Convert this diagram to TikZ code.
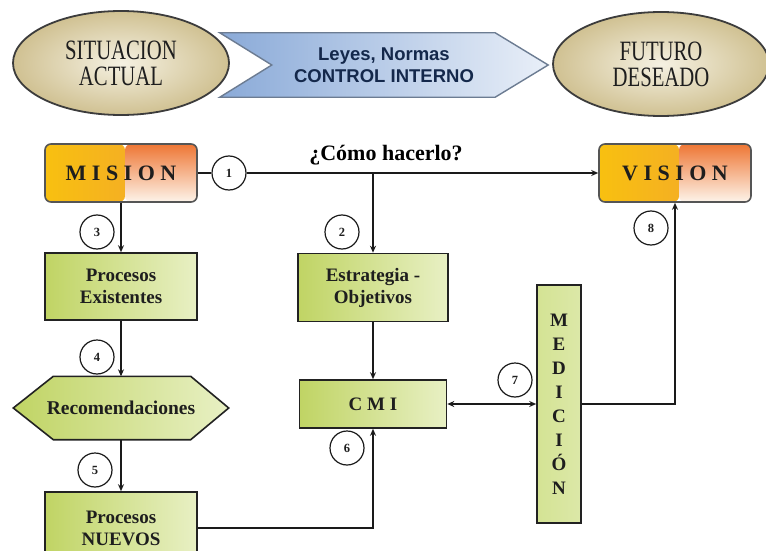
\documentclass[tikz,border=0pt]{standalone}
\usepackage{fontspec}
\setmainfont{Liberation Serif}
\newfontfamily\chevfont{Liberation Sans}
\newfontfamily\condfont[FakeStretch=0.74]{Liberation Serif}
\usetikzlibrary{arrows.meta,calc,shapes.geometric}
\pgfdeclarelayer{background}
\pgfsetlayers{background,main}
\definecolor{linec}{HTML}{1A1A1A}
\definecolor{boxedge}{HTML}{222222}
\definecolor{txtdark}{HTML}{1E1E1E}
\definecolor{ellin}{HTML}{F5F1E2}
\definecolor{ellout}{HTML}{D0C192}
\definecolor{elledge}{HTML}{3C3C3C}
\definecolor{chev1}{HTML}{8AAAD8}
\definecolor{chev2}{HTML}{C3D4EC}
\definecolor{chev3}{HTML}{E9EFF8}
\definecolor{chevedge}{HTML}{6C7C92}
\definecolor{chevtxt}{HTML}{14284B}
\definecolor{or1}{HTML}{F8C010}
\definecolor{or2}{HTML}{F2A232}
\definecolor{or3}{HTML}{EE7634}
\definecolor{or4}{HTML}{FDF4EA}
\definecolor{oredge}{HTML}{555555}
\definecolor{g1}{HTML}{C0D464}
\definecolor{g2}{HTML}{C9DC78}
\definecolor{g3}{HTML}{E8F0C4}
\definecolor{m1}{HTML}{D4E394}
\definecolor{m2}{HTML}{C3D76A}
\definecolor{m3}{HTML}{DCE8A8}
\tikzset{
  conn/.style={draw=linec, line width=1.4pt},
  arr/.style={conn, -{Stealth[length=7pt,width=6pt]}},
  darr/.style={conn, {Stealth[length=7pt,width=6pt]}-{Stealth[length=7pt,width=6pt]}},
  ellnode/.style={ellipse, draw=elledge, line width=1.8pt, inner color=ellin, outer color=ellout,
    minimum width=216pt, minimum height=104pt, inner sep=0pt, align=center,
    font=\condfont\fontsize{28}{26}\selectfont, text=txtdark},
  orangebox/.style={rectangle, rounded corners=6pt, draw=oredge, line width=1.6pt,
    minimum width=152pt, minimum height=58pt, inner sep=0pt,
    font=\fontsize{22}{22}\selectfont\bfseries, text=txtdark,
    path picture={
      \shade[left color=or1, right color=or2] (path picture bounding box.south west) rectangle ($(path picture bounding box.north)+(4,0)$);
      \shade[top color=or3, bottom color=or4] ($(path picture bounding box.north)+(4,0)$) rectangle (path picture bounding box.south east);
    }},
  greenbox/.style={rectangle, draw=boxedge, line width=1.6pt, left color=g1, middle color=g2, right color=g3,
    inner sep=0pt, align=center, font=\fontsize{19}{22}\selectfont\bfseries, text=txtdark},
  numc/.style={circle, draw=linec, line width=1.2pt, fill=white, minimum size=34pt, inner sep=0pt,
    font=\fontsize{12.5}{12.5}\selectfont\bfseries, text=txtdark},
}
\begin{document}
\begin{tikzpicture}[x=1pt,y=-1pt]
\useasboundingbox (0,0) rectangle (766,551);
\clip (0,0) rectangle (766,551);
\begin{pgfonlayer}{background}
\fill[white] (0,0) rectangle (766,551);
\end{pgfonlayer}

% top row
\node[ellnode] (sit) at (121,63) {SITUACION\\ACTUAL};
\node[ellnode] (fut) at (661,64) {FUTURO\\DESEADO};
\node[minimum width=328pt, minimum height=64pt, inner sep=0pt, align=center,
      font=\chevfont\fontsize{18.5}{21.5}\selectfont\bfseries, text=chevtxt] (ley) at (384,65)
      {Leyes, Normas\\CONTROL INTERNO};
\begin{pgfonlayer}{background}
\shadedraw[left color=chev1, middle color=chev2, right color=chev3, draw=chevedge, line width=1.4pt]
  (ley.north west) -- ([xshift=-53pt]ley.north east) -- (ley.east) -- ([xshift=-53pt]ley.south east)
  -- (ley.south west) -- ([xshift=52pt]ley.west) -- cycle;
\end{pgfonlayer}

% main boxes
\node[orangebox] (mis) at (121,173) {M I S I O N};
\node[orangebox] (vis) at (675,173) {V I S I O N};
\node[font=\fontsize{22}{22}\selectfont\bfseries, text=black, inner sep=0pt] (como) at (386,155) {¿Cómo hacerlo?};

\node[greenbox, minimum width=152pt, minimum height=67pt] (pe) at (121,286.5) {Procesos\\Existentes};
\node[greenbox, minimum width=150pt, minimum height=68pt] (est) at (373,287.5) {Estrategia -\\Objetivos};
\node[greenbox, minimum width=147pt, minimum height=48pt] (cmi) at (373,404) {C M I};
\node[greenbox, left color=m1, middle color=m2, right color=m3, minimum width=44pt, minimum height=238pt,
      font=\fontsize{19}{24}\selectfont\bfseries] (med) at (559,404) {M\\E\\D\\I\\C\\I\\Ó\\N};
\node[greenbox, minimum width=152pt, minimum height=72pt] (pn) at (121,528) {Procesos\\NUEVOS};

\node[minimum width=215pt, minimum height=63pt, inner sep=0pt,
      font=\fontsize{19.5}{22}\selectfont\bfseries, text=txtdark] (rec) at (121,408) {Recomendaciones};
\begin{pgfonlayer}{background}
\shadedraw[left color=g1, middle color=g2, right color=g3, draw=boxedge, line width=1.6pt]
  (rec.west) -- ([xshift=40pt]rec.north west) -- ([xshift=-38pt]rec.north east) -- (rec.east)
  -- ([xshift=-38pt]rec.south east) -- ([xshift=40pt]rec.south west) -- cycle;
\end{pgfonlayer}

% number circles
\node[numc] (c1) at (229,173) {1};
\node[numc] (c2) at (342,232) {2};
\node[numc] (c3) at (97,232) {3};
\node[numc] (c4) at (97,357) {4};
\node[numc] (c5) at (95,470) {5};
\node[numc] (c6) at (347,448) {6};
\node[numc] (c7) at (515,380) {7};
\node[numc] (c8) at (651,228) {8};

% connectors
\coordinate (br) at (est.north |- mis.east);
\draw[conn] (mis.east) -- (c1.west);
\draw[arr] (c1.east) -- (vis.west);
\draw[arr] (br) -- (est.north);
\draw[arr] (mis.south) -- (pe.north);
\draw[arr] (pe.south) -- (rec.north);
\draw[arr] (rec.south) -- (pn.north);
\draw[arr] (pn.east) -| (cmi.south);
\draw[arr] (est.south) -- (cmi.north);
\draw[darr] (cmi.east) -- (med.west);
\draw[arr] (med.east) -| (vis.south);
\end{tikzpicture}
\end{document}
